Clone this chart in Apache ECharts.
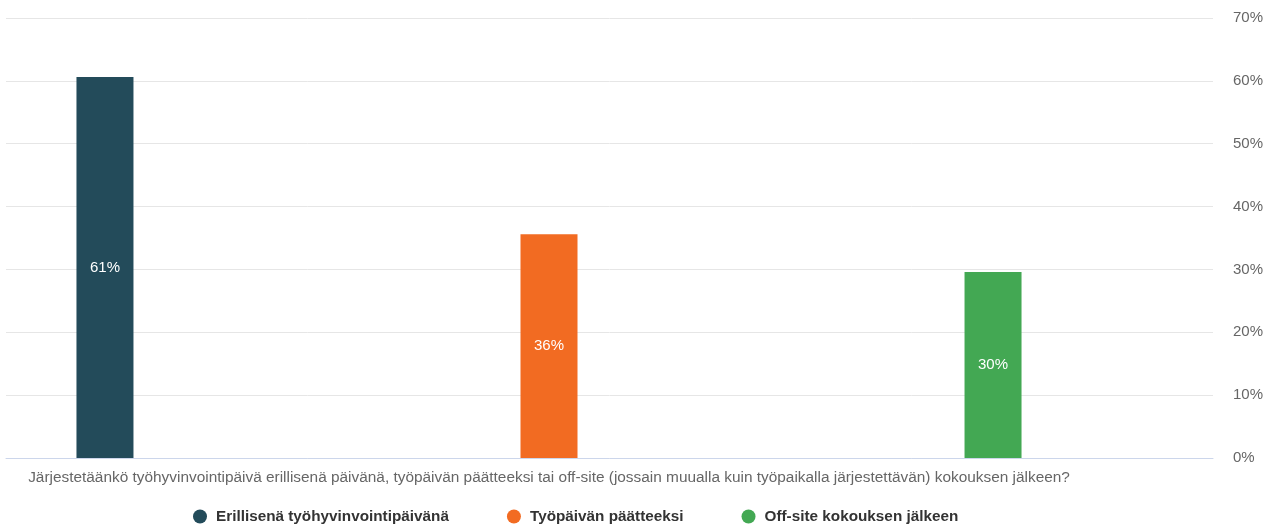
<!DOCTYPE html>
<html>
<head>
<meta charset="utf-8">
<script src="https://cdn.jsdelivr.net/npm/echarts@6/dist/echarts.min.js"></script>
<style>html,body{margin:0;padding:0;background:#fff;}#c{width:1273px;height:526px;}</style>
</head>
<body>
<div id="c"></div>
<script>
const categories = ['Järjestetäänkö työhyvinvointipäivä erillisenä päivänä, työpäivän päätteeksi tai off-site (jossain muualla kuin työpaikalla järjestettävän) kokouksen jälkeen?'];
const seriesNames = ['Erillisenä työhyvinvointipäivänä', 'Työpäivän päätteeksi', 'Off-site kokouksen jälkeen'];
const seriesValues = [[60.6], [35.6], [29.6]];
const seriesColors = ['#234b5a', '#f26b22', '#43a853'];
const yMin = 0, yMax = 70, yStep = 10;

const font = '"Liberation Sans", Arial, Helvetica, sans-serif';
const chart = echarts.init(document.getElementById('c'), null, {renderer: 'canvas'});
chart.setOption({
  animation: false,
  textStyle: {fontFamily: font},
  grid: [
    {left: 6, right: 60, top: 18, bottom: 68},
    {left: 0, right: 175, top: 18, bottom: 68}
  ],
  xAxis: [
    {type: 'category', gridIndex: 0, data: categories.map(() => ''),
     axisLine: {show: true, lineStyle: {color: '#ccd6eb', width: 1}},
     axisTick: {show: false}, axisLabel: {show: false}, splitLine: {show: false}},
    {type: 'category', gridIndex: 1, data: categories,
     axisLine: {show: false}, axisTick: {show: false},
     axisLabel: {color: '#666666', fontSize: 15.4, margin: 12, fontFamily: font}}
  ],
  yAxis: [
    {type: 'value', gridIndex: 0, position: 'right', min: yMin, max: yMax, interval: yStep,
     axisLine: {show: false}, axisTick: {show: false},
     axisLabel: {formatter: '{value}%', color: '#666666', fontSize: 15, margin: 20, fontFamily: font},
     splitLine: {lineStyle: {color: '#e6e6e6', width: 1}}},
    {type: 'value', gridIndex: 1, min: yMin, max: yMax, interval: yStep, show: false,
     splitLine: {show: false}}
  ],
  legend: {
    top: 504, left: 188, icon: 'circle', itemWidth: 14, itemHeight: 14, itemGap: 58,
    textStyle: {color: '#333333', fontWeight: 'bold', fontSize: 15.3, fontFamily: font, padding: [0, 0, 0, 4]},
    data: seriesNames
  },
  series: seriesNames.map((name, i) => ({
    name: name, type: 'bar', xAxisIndex: 1, yAxisIndex: 1,
    data: seriesValues[i], barWidth: 57, barGap: '679%',
    itemStyle: {color: seriesColors[i]},
    label: {show: true, position: 'inside', formatter: p => Math.round(p.value) + '%', color: '#ffffff', fontSize: 15, fontFamily: font}
  }))
});
</script>
</body>
</html>
